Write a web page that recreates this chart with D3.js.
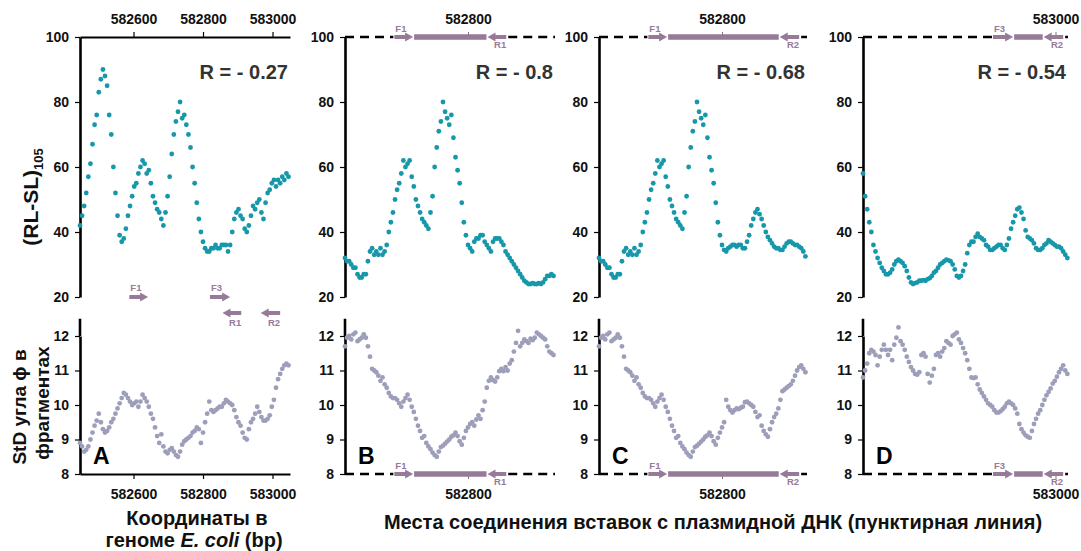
<!DOCTYPE html>
<html>
<head>
<meta charset="utf-8">
<script src="https://cdn.jsdelivr.net/npm/d3@7"></script>
<style>
  body { margin: 0; background: #fff; }
  svg { display: block; }
  text { font-family: "Liberation Sans", Arial, sans-serif; font-weight: bold; }
</style>
</head>
<body>
<svg id="chart" width="1081" height="551"></svg>
<script>
// Sliding-window profiles along the E. coli fragment, one value every 6 bp
const START_BP = 582446;
const STEP_BP = 6;

const panelIds = ["A", "B", "C", "D"];
const rLabels = ["R = - 0.27", "R = - 0.8", "R = - 0.68", "R = - 0.54"];

// (RL-SL)105 profiles
const rlslA = [42,45,48,52,57,61,67,73,76,83, 87,90,88,85,76,70,60,52,45,39,
  37,38,41,45,48,51,54,55,58,60, 62,61,58,59,55,51,49,47,46,44,
  42,46,51,57,64,70,74,77,80,75, 76,73,70,66,60,55,49,44,40,37,
  35,34,34,35,35,36,35,35,36,36, 36,34,36,40,44,46,47,45,44,41,
  40,42,45,48,47,49,50,46,44,49, 52,53,55,56,54,56,55,57,56,58, 57];
const rlslB = [32,31,31,30,29,29,27,26,26,27, 27,31,34,35,33,34,33,35,33,34,
  36,40,43,46,50,53,55,58,62,60, 61,62,57,54,50,48,46,44,43,42,
  41,46,51,60,66,71,74,80,77,75, 73,76,69,63,59,55,49,43,39,36,
  35,34,37,38,38,39,39,37,36,35, 34,37,38,38,38,37,36,34,33,32,
  31,30,29,28,27,26,25,24.5,24,24, 24.3,24,24,24.3,24,24.5,25.5,26.5,26.5,27, 26.5];
const rlslC = [32,31,31,30,29,29,27,26,26,27, 27,31,34,35,33,34,33,35,33,34,
  36,40,43,46,50,53,55,58,62,60, 61,62,57,54,50,48,46,44,43,42,
  41,46,51,60,66,71,74,80,77,75, 73,76,69,63,59,55,49,43,39,
  36,34.5,34,35,35.5,36,36,35.5,36,36, 35,35,37,39,42,44,46,47,45.5,44,
  42,40,38.5,37.5,36.5,35.5,35,35,34.5,34.5, 35.5,36.5,37,37,36.5,36,36,35.5,35,34, 32.5];
const rlslD = [58,51,47,43,40,36,34,32,30.5,29, 28,27,27,27.5,28.5,30,31,31.5,31,30.5,
  29.5,28,26,24.5,24,24.3,24.5,25,25,25.2, 25,25.5,25.8,26.5,27.5,28,29,30,30.5,31,
  31.5,31.3,31,30,28.5,26.5,26,26.5,28,30, 33.5,36,37,37,38.5,39.5,38.5,38,37.5,36,
  35.5,34.5,34.5,35,35.5,36,36,35,34.5,36, 38,41,43,45,47,47.5,46,44,40.5,38.5,
  38,37.5,36.5,35,34.5,34.5,35,36,36.5,37.5, 37,36.5,36,35.5,35.5,35,34,33,32];

// StD of the phi angle in fragments
const stdA = [8.9,8.8,8.65,8.7,8.8,9.0,9.2,9.4,9.55,9.75, 9.5,9.3,9.2,9.25,9.35,9.5,9.6,9.75,9.9,10.05,
  10.2,10.35,10.3,10.2,10.1,10.0,10.05,10.1,9.95,10.1, 10.3,10.2,10.1,9.95,9.75,9.6,9.35,9.1,8.9,9.15,
  8.8,8.65,8.6,8.7,8.75,8.65,8.55,8.5,8.65,8.85, 8.95,9.0,9.05,9.1,9.2,9.25,9.35,9.3,8.9,9.2,
  9.5,9.75,10.1,9.85,9.8,9.85,9.9,9.95,9.95,10.05, 10.15,10.1,10.05,10.0,9.85,9.65,9.5,9.4,9.2,9.05,
  9.0,9.3,9.5,9.6,9.75,9.95,9.8,9.65,9.55,9.55, 9.6,9.7,9.95,10.15,10.5,10.75,10.9,11.05,11.15,11.2, 11.15];
const stdB = [11.7,11.95,12.0,11.9,12.05,12.1,11.85,11.9,11.95,12.05, 11.95,11.7,11.4,11.05,11.0,10.95,10.85,10.7,10.8,10.6,
  10.5,10.35,10.25,10.2,10.2,10.15,10.05,9.95,10.1,10.2, 10.3,10.15,9.95,9.8,9.6,9.4,9.25,9.05,9.1,8.9,
  8.8,8.72,8.62,8.55,8.5,8.65,8.78,8.82,8.88,8.94, 9.0,9.08,9.12,9.2,9.1,8.95,8.85,9.05,9.25,9.35,
  9.45,9.5,9.4,9.58,9.7,9.6,9.85,10.1,10.5,10.7, 10.8,10.72,10.68,10.8,10.98,11.05,10.98,11.1,11.0,11.2,
  11.3,11.55,11.8,12.15,11.7,11.8,11.9,11.85,11.8,11.92, 11.88,11.95,12.1,12.05,12.0,11.95,11.9,11.7,11.55,11.5, 11.45];
const stdC = [11.7,11.95,12.0,11.9,12.05,12.1,11.85,11.9,11.95,12.05, 11.95,11.7,11.4,11.05,11.0,10.95,10.85,10.7,10.8,10.6,
  10.5,10.35,10.25,10.2,10.2,10.15,10.05,9.95,10.1,10.2, 10.3,10.15,9.95,9.8,9.6,9.4,9.25,9.05,9.1,8.9,
  8.8,8.72,8.62,8.55,8.5,8.65,8.78,8.82,8.88,8.94, 9.0,9.08,9.12,9.2,9.1,8.95,8.85,9.05,
  9.2,9.35,9.5,10.15,9.95,9.85,9.78,9.85,9.9,9.88, 9.92,9.95,10.08,10.1,10.05,10.0,9.95,9.8,9.65,9.7,
  9.4,9.25,9.15,9.08,9.3,9.5,9.65,9.75,9.9,10.15, 10.4,10.45,10.5,10.55,10.6,10.7,10.85,11.0,11.1,11.15, 11.05,10.95];
const stdD = [10.8,11.0,11.2,11.5,11.6,11.55,11.45,11.15,11.4,11.6, 11.75,11.6,11.45,11.6,11.3,11.75,11.95,12.25,11.85,11.75,
  11.6,11.4,11.25,11.1,11.0,10.9,10.88,10.95,11.45,11.5, 11.4,10.9,10.65,10.85,11.05,11.45,11.5,11.4,11.55,11.65,
  11.85,11.8,11.75,12.0,12.05,12.1,11.9,11.8,11.65,11.5, 11.3,11.05,10.8,10.78,10.8,10.6,10.45,10.35,10.25,10.15,
  10.05,10.0,9.95,9.85,9.78,9.78,9.82,9.88,9.95,10.05, 10.1,10.05,10.0,9.9,9.75,9.45,9.3,9.2,9.12,9.08,
  9.05,9.25,9.45,9.6,9.75,9.85,10.0,10.15,10.28,10.38, 10.48,10.62,10.7,10.82,10.95,11.05,11.15,11.0,10.9];

const rlslTicks = [20, 40, 60, 80, 100];
const stdTicks = [8, 9, 10, 11, 12];
const coordTicks = [[582600, 582800, 583000], [582800], [582800], [583000]];

// Primer sites, bp
const primerF1 = [582588, 582642];
const primerR1 = [582856, 582910];
const primerF3 = [582820, 582878];
const primerR2 = [582966, 583022];
const insertPrimers = [null, ["F1", "R1"], ["F1", "R2"], ["F3", "R2"]];

const rlslSeries = [rlslA, rlslB, rlslC, rlslD];
const stdSeries = [stdA, stdB, stdC, stdD];

// ---------- layout ----------
const svg = d3.select("#chart");
const PX_PER_BP = 0.3475;
const panelLeft = [80, 345, 599, 863];
const panelRight = [290, 555, 807, 1068];
const TEAL = "#1797aa";
const LAVENDER = "#9c9eba";
const MAUVE = "#977a97";
const DOT_R = 2.4;
const primers = { F1: primerF1, R1: primerR1, F3: primerF3, R2: primerR2 };
const fmt = d3.format("d");

const yTop = d3.scaleLinear().domain([20, 100]).range([297, 37]);
const yBot = d3.scaleLinear().domain([8, 12]).range([474, 336]);

function styleAxis(g, width) {
  g.selectAll(".domain").attr("stroke", "#000").attr("stroke-width", width);
  g.selectAll(".tick line").attr("stroke", "#000").attr("stroke-width", 1.2);
  g.selectAll(".tick text").attr("fill", "#111").style("font-size", "14px")
    .style("font-family", "'Liberation Sans', Arial, sans-serif").style("font-weight", "bold");
}

function arrow(g, x1, x2, y, forward) {
  const head = 8, hh = 4.5, bw = 2;
  const pts = forward
    ? [[x1, y - bw], [x2 - head, y - bw], [x2 - head, y - hh], [x2, y], [x2 - head, y + hh], [x2 - head, y + bw], [x1, y + bw]]
    : [[x2, y - bw], [x1 + head, y - bw], [x1 + head, y - hh], [x1, y], [x1 + head, y + hh], [x1 + head, y + bw], [x2, y + bw]];
  g.append("polygon").attr("points", pts.map(p => p.join(",")).join(" ")).attr("fill", MAUVE);
}

function primerLabel(g, text, x, y, anchor) {
  g.append("text").attr("x", x).attr("y", y).attr("text-anchor", anchor)
    .attr("fill", MAUVE).style("font-size", "9.5px").text(text);
}

// Plasmid junction row: dashed line with the insert drawn between its primers
function insertRow(g, x, y, left, right, fName, rName) {
  const f = primers[fName], r = primers[rName];
  const xf1 = x(f[0]), xf2 = x(f[1]), xr1 = x(r[0]), xr2 = x(r[1]);
  g.append("line").attr("x1", left).attr("x2", xf1 - 1).attr("y1", y).attr("y2", y)
    .attr("stroke", "#000").attr("stroke-width", 2.5).attr("stroke-dasharray", "9,6");
  g.append("line").attr("x1", xr2 + 2).attr("x2", right).attr("y1", y).attr("y2", y)
    .attr("stroke", "#000").attr("stroke-width", 2.5).attr("stroke-dasharray", "9,6");
  g.append("rect").attr("x", xf2 + 1).attr("y", y - 2.75).attr("width", xr1 - xf2 - 2).attr("height", 5.5).attr("fill", MAUVE);
  arrow(g, xf1, xf2, y, true);
  arrow(g, xr1, xr2, y, false);
  primerLabel(g, fName, xf1 + 1, y - 5, "start");
  primerLabel(g, rName, xr2, y + 11, "end");
}

panelIds.forEach((id, p) => {
  const left = panelLeft[p], right = panelRight[p];
  const x = d3.scaleLinear().domain([START_BP, START_BP + (right - left) / PX_PER_BP]).range([left, right]);
  const g = svg.append("g").attr("class", "panel-" + id);

  // y axes
  const ay1 = g.append("g").attr("transform", `translate(${left},0)`)
    .call(d3.axisLeft(yTop).tickValues(rlslTicks).tickFormat(fmt).tickSize(5).tickSizeOuter(0).tickPadding(6));
  styleAxis(ay1, 2.6);
  const ay2 = g.append("g").attr("transform", `translate(${left},0)`)
    .call(d3.axisLeft(yBot).tickValues(stdTicks).tickFormat(fmt).tickSize(5).tickSizeOuter(0).tickPadding(6));
  styleAxis(ay2, 2.6);
  g.append("line").attr("x1", left).attr("x2", left).attr("y1", yBot(12.5)).attr("y2", yBot(12))
    .attr("stroke", "#000").attr("stroke-width", 2.6);

  // coordinate axes
  const axT = g.append("g").attr("transform", "translate(0,37)")
    .call(d3.axisTop(x).tickValues(coordTicks[p]).tickFormat(fmt).tickSize(5).tickSizeOuter(0).tickPadding(8));
  const axB = g.append("g").attr("transform", "translate(0,474)")
    .call(d3.axisBottom(x).tickValues(coordTicks[p]).tickFormat(fmt).tickSize(5).tickSizeOuter(0).tickPadding(10));
  styleAxis(axT, 2);
  styleAxis(axB, 2);
  if (p > 0) {
    axT.select(".domain").remove();
    axB.select(".domain").remove();
    axT.selectAll(".tick line").attr("stroke", "#777").attr("stroke-width", 1);
    axB.selectAll(".tick line").attr("stroke", "#777").attr("stroke-width", 1);
    const [fName, rName] = insertPrimers[p];
    insertRow(g, x, 37, left, right, fName, rName);
    insertRow(g, x, 474, left, right, fName, rName);
  }

  // data points
  g.append("g").selectAll("circle").data(rlslSeries[p]).join("circle")
    .attr("cx", (d, i) => x(START_BP + i * STEP_BP)).attr("cy", d => yTop(d))
    .attr("r", DOT_R).attr("fill", TEAL);
  g.append("g").selectAll("circle").data(stdSeries[p]).join("circle")
    .attr("cx", (d, i) => x(START_BP + i * STEP_BP)).attr("cy", d => yBot(d))
    .attr("r", DOT_R).attr("fill", LAVENDER);

  // correlation and panel letter
  g.append("text").attr("x", right - 2).attr("y", 79).attr("text-anchor", "end")
    .attr("fill", "#333").style("font-size", "20px").text(rLabels[p]);
  g.append("text").attr("x", left + 13).attr("y", 464).attr("fill", "#000")
    .style("font-size", "23px").text(id);

  // primer map under panel A
  if (p === 0) {
    arrow(g, x(primerF1[0]), x(primerF1[1]), 297, true);
    arrow(g, x(primerF3[0]), x(primerF3[1]), 297, true);
    arrow(g, x(primerR1[0]), x(primerR1[1]), 313, false);
    arrow(g, x(primerR2[0]), x(primerR2[1]), 313, false);
    primerLabel(g, "F1", x(primerF1[0]) + 1, 291, "start");
    primerLabel(g, "F3", x(primerF3[0]) + 1, 291, "start");
    primerLabel(g, "R1", x(primerR1[1]), 326, "end");
    primerLabel(g, "R2", x(primerR2[1]), 326, "end");
  }
});

// axis titles
const t1 = svg.append("text").attr("transform", "translate(38,197) rotate(-90)")
  .attr("text-anchor", "middle").attr("fill", "#111").style("font-size", "21px");
t1.append("tspan").text("(RL-SL)");
t1.append("tspan").attr("dy", 5).style("font-size", "13px").text("105");

svg.append("text").attr("transform", "translate(26,407) rotate(-90)")
  .attr("text-anchor", "middle").attr("fill", "#111").style("font-size", "19px").text("StD угла ϕ в");
svg.append("text").attr("transform", "translate(49,403) rotate(-90)")
  .attr("text-anchor", "middle").attr("fill", "#111").style("font-size", "19px").text("фрагментах");

svg.append("text").attr("x", 197).attr("y", 525).attr("text-anchor", "middle")
  .attr("fill", "#111").style("font-size", "20px").text("Координаты в");
const t2 = svg.append("text").attr("x", 194).attr("y", 547).attr("text-anchor", "middle")
  .attr("fill", "#111").style("font-size", "20px");
t2.append("tspan").text("геноме ");
t2.append("tspan").style("font-style", "italic").text("E. coli");
t2.append("tspan").text(" (bp)");

svg.append("text").attr("x", 713).attr("y", 529).attr("text-anchor", "middle")
  .attr("fill", "#111").style("font-size", "20px")
  .text("Места соединения вставок с плазмидной ДНК (пунктирная линия)");
</script>
</body>
</html>
